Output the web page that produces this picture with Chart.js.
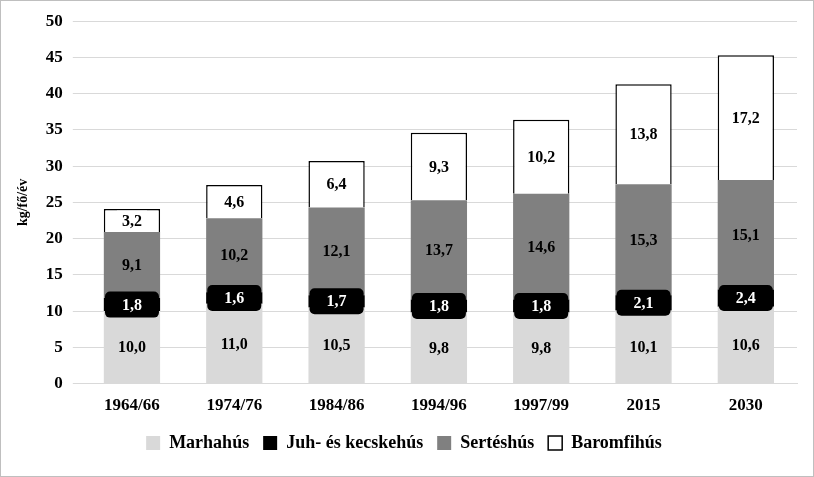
<!DOCTYPE html>
<html><head><meta charset="utf-8">
<script src="https://cdn.jsdelivr.net/npm/chart.js@4"></script>
<style>body{margin:0;background:#fff}#w{width:812px;height:475px;border:1px solid #bfbfbf}</style>
</head><body><div id="w"><canvas id="c"></canvas></div>
<script>
const categories=["1964/66","1974/76","1984/86","1994/96","1997/99","2015","2030"];
const marha=[10.0,11.0,10.5,9.8,9.8,10.1,10.6];
const juh=[1.8,1.6,1.7,1.8,1.8,2.1,2.4];
const sertes=[9.1,10.2,12.1,13.7,14.6,15.3,15.1];
const baromfi=[3.2,4.6,6.4,9.3,10.2,13.8,17.2];
const F="'Liberation Serif','Times New Roman',serif";
const labels={id:'lbl',afterDatasetsDraw(ch){const ctx=ch.ctx;ctx.save();ctx.font="bold 16px "+F;ctx.textAlign='center';ctx.textBaseline='middle';
ch.data.datasets.forEach((ds,i)=>{ch.getDatasetMeta(i).data.forEach((el,j)=>{const x=el.x,y=(el.y+el.base)/2;const t=ds.data[j].toFixed(1).replace('.',',');
if(i===1){ctx.fillStyle='#000';ctx.beginPath();ctx.roundRect(x-27,y-13,54,26,5);ctx.fill();ctx.fillStyle='#fff';}
else if(i===3){const w=ctx.measureText(t).width+10;ctx.fillStyle='#fff';ctx.fillRect(x-w/2,y-10,w,20);ctx.fillStyle='#000';}
else ctx.fillStyle='#000';
ctx.fillText(t,x,y+1);});});ctx.restore();}};
new Chart(document.getElementById('c'),{type:'bar',
data:{labels:categories,datasets:[
{label:'Marhahús',data:marha,backgroundColor:'#d9d9d9'},
{label:'Juh- és kecskehús',data:juh,backgroundColor:'#000'},
{label:'Sertéshús',data:sertes,backgroundColor:'#808080'},
{label:'Baromfihús',data:baromfi,backgroundColor:'#fff',borderColor:'#000',borderWidth:1.5}]},
options:{responsive:true,maintainAspectRatio:false,animation:false,
layout:{padding:{top:13,right:16,left:10,bottom:14}},
datasets:{bar:{barPercentage:0.55,categoryPercentage:1}},
plugins:{tooltip:{enabled:false},legend:{position:'bottom',labels:{font:{family:F,size:18,weight:'bold'},color:'#000',boxWidth:14,boxHeight:14,padding:14}}},
scales:{x:{stacked:true,grid:{display:false},border:{color:'#d9d9d9'},ticks:{font:{family:F,size:17,weight:'bold'},color:'#000',padding:4}},
y:{stacked:true,min:0,max:50,ticks:{stepSize:5,font:{family:F,size:17,weight:'bold'},color:'#000',padding:10},grid:{color:'#d9d9d9'},border:{display:false},
title:{display:true,text:'kg/fő/év',font:{family:F,size:14,weight:'bold'},color:'#000'}}}},
plugins:[labels]});
</script></body></html>
